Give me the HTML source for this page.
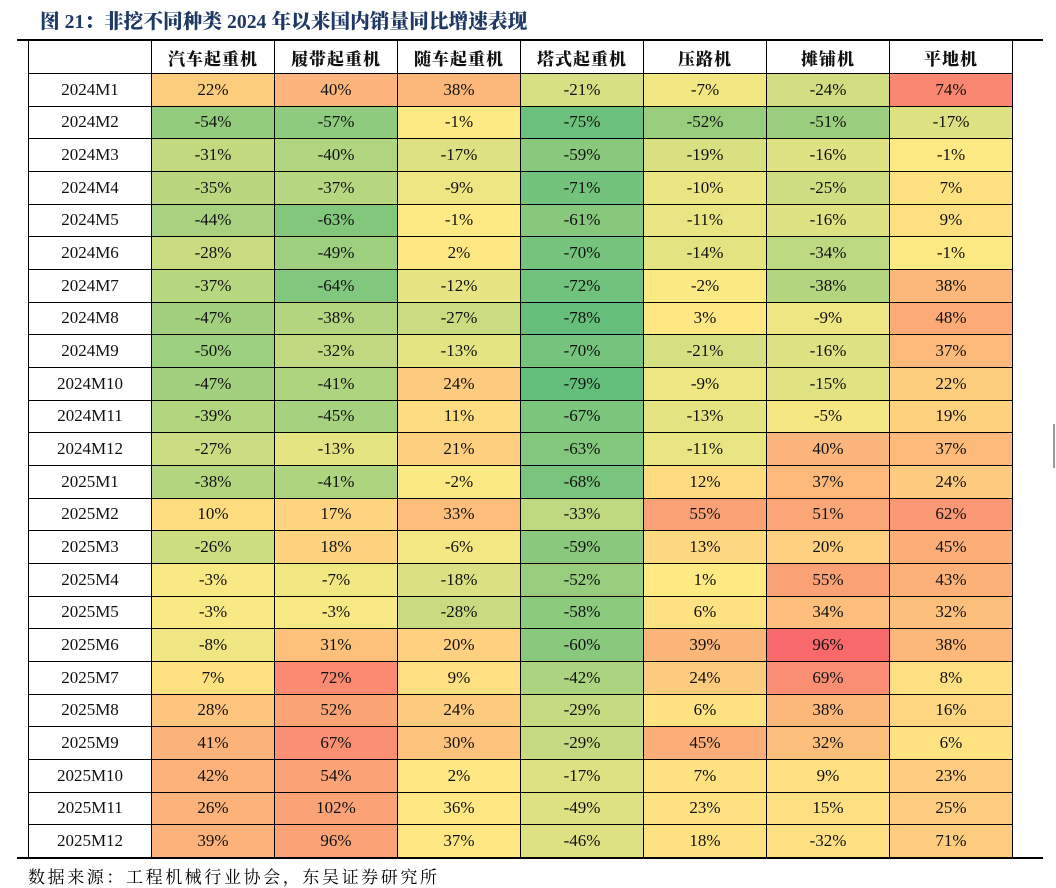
<!DOCTYPE html>
<html><head><meta charset="utf-8"><style>
body{margin:0;width:1056px;height:888px;background:#fff;position:relative;overflow:hidden;font-family:"Liberation Serif","Noto Serif CJK SC",serif;}
.abs{position:absolute;}
.cell{position:absolute;box-sizing:border-box;display:flex;align-items:center;justify-content:center;font-size:17px;color:#111;}
.hd{font-family:"Noto Serif CJK SC","Liberation Serif",serif;font-weight:900;font-size:17px;letter-spacing:1px;}
</style></head><body>
<div class="abs" style="left:40px;top:5px;font-size:19.7px;font-weight:900;color:#1F3864;font-family:'Liberation Serif','Noto Serif CJK SC',serif;">图 21：非挖不同种类 2024 年以来国内销量同比增速表现</div>
<div class="abs" style="left:17px;top:39px;width:1026px;height:2px;background:#000;"></div>
<div class="abs" id="tbl" style="left:0;top:0;width:1056px;height:888px;"></div>
<div class="abs" style="left:17px;top:857px;width:1026px;height:2px;background:#000;"></div>
<div class="abs" style="left:28px;top:863px;font-size:17px;letter-spacing:2.6px;font-family:'Liberation Serif','Noto Serif CJK SC',serif;">数据来源：工程机械行业协会，东吴证券研究所</div>
<div class="abs" style="left:1053px;top:424px;width:2px;height:44px;background:#999;"></div>
<script>
const columns=["汽车起重机","履带起重机","随车起重机","塔式起重机","压路机","摊铺机","平地机"];
const rowLabels=["2024M1","2024M2","2024M3","2024M4","2024M5","2024M6","2024M7","2024M8","2024M9","2024M10","2024M11","2024M12","2025M1","2025M2","2025M3","2025M4","2025M5","2025M6","2025M7","2025M8","2025M9","2025M10","2025M11","2025M12"];
const truckCrane=[22,-54,-31,-35,-44,-28,-37,-47,-50,-47,-39,-27,-38,10,-26,-3,-3,-8,7,28,41,42,26,39];
const crawlerCrane=[40,-57,-40,-37,-63,-49,-64,-38,-32,-41,-45,-13,-41,17,18,-7,-3,31,72,52,67,54,102,96];
const truckMountedCrane=[38,-1,-17,-9,-1,2,-12,-27,-13,24,11,21,-2,33,-6,-18,-28,20,9,24,30,2,36,37];
const towerCrane=[-21,-75,-59,-71,-61,-70,-72,-78,-70,-79,-67,-63,-68,-33,-59,-52,-58,-60,-42,-29,-29,-17,-49,-46];
const roller=[-7,-52,-19,-10,-11,-14,-2,3,-21,-9,-13,-11,12,55,13,1,6,39,24,6,45,7,23,18];
const paver=[-24,-51,-16,-25,-16,-34,-38,-9,-16,-15,-5,40,37,51,20,55,34,96,69,38,32,9,15,-32];
const grader=[74,-17,-1,7,9,-1,38,48,37,22,19,37,24,62,45,43,32,38,8,16,6,23,25,71];
const series=[truckCrane,crawlerCrane,truckMountedCrane,towerCrane,roller,paver,grader];
const scaleMin=-79, scaleMax=96;
function mix(a,b,t){return a.map((v,i)=>Math.round(v+(b[i]-v)*t));}
function color(v){
  const g=[99,190,123],y=[255,235,132],r=[248,105,107];
  let c=v<0?mix(y,g,Math.min(1,v/scaleMin)):mix(y,r,Math.min(1,v/scaleMax));
  return `rgb(${c[0]},${c[1]},${c[2]})`;
}
const X0=28,CW=123,Y0=40,HH=33,RH=(857-73)/24;
const tbl=document.getElementById('tbl');
function cell(x,y,w,h,txt,bg,cls,name){
  const d=document.createElement('div');
  d.className='cell '+(cls||'');
  d.style.left=x+'px';d.style.top=y+'px';d.style.width=w+'px';d.style.height=h+'px';
  d.style.background=bg;d.style.border='1px solid #000';
  d.textContent=txt;
  
  
  tbl.appendChild(d);
}
cell(X0,Y0,CW+1,HH+1,'','#fff','','header-corner');
columns.forEach((c,j)=>cell(X0+CW*(j+1),Y0,CW+1,HH+1,c,'#fff','hd','column-header'));
rowLabels.forEach((lab,i)=>{
  const y=Y0+HH+RH*i;
  cell(X0,y,CW+1,RH+1,lab,'#fff','','row-label');
  series.forEach((s,j)=>{
    const ci=i>=21?21:i;
    cell(X0+CW*(j+1),y,CW+1,RH+1,s[i]+'%',color(s[ci]),'','heat-cell');
  });
});
</script>
</body></html>
